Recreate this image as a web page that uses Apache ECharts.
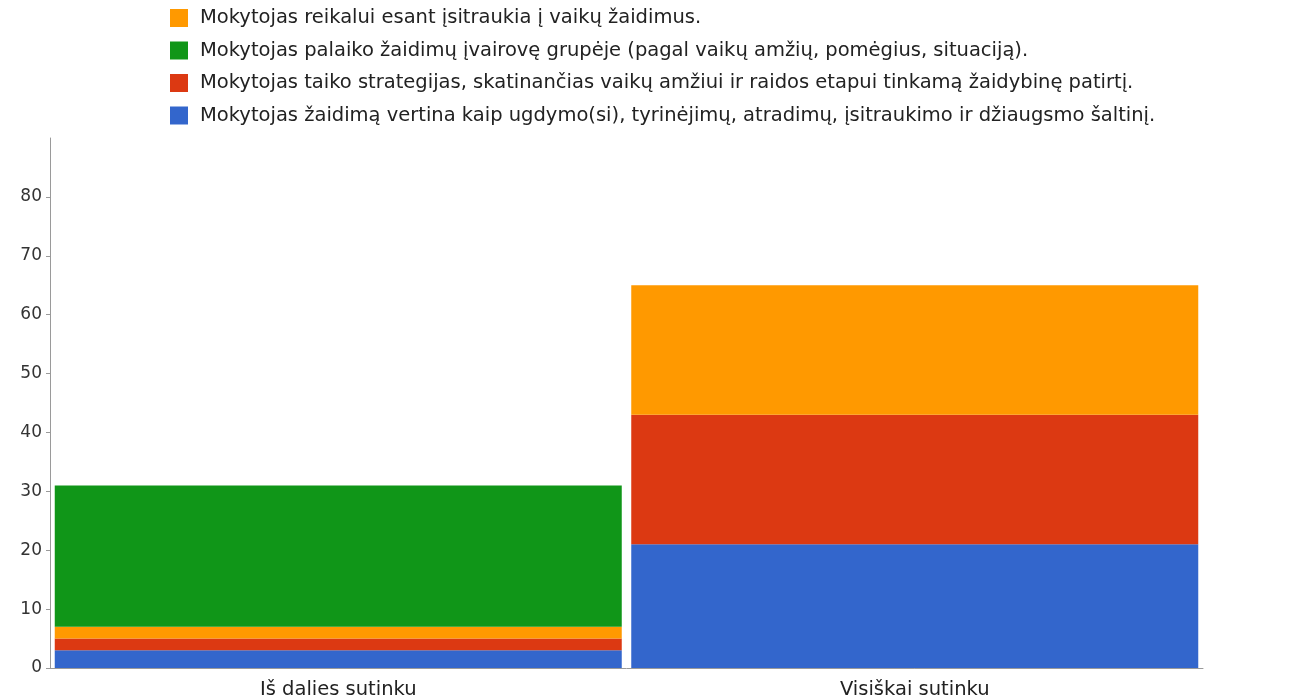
<!DOCTYPE html>
<html lang="lt" style="height: 100%">
<head>
  <meta charset="utf-8">
  <title>Mokytojas ir žaidimas</title>
</head>
<body style="height: 100%; margin: 0; background: #fff">
  <div id="container" style="width: 1304px; height: 700px"></div>

  <script type="text/javascript" src="https://cdn.jsdelivr.net/npm/echarts@6/dist/echarts.min.js"></script>
  <script type="text/javascript">
    // kategorijos (x ašis)
    const categories = ['Iš dalies sutinku', 'Visiškai sutinku'];

    // serijos (kaupiamos nuo apačios)
    const seriesNames = [
      'Mokytojas žaidimą vertina kaip ugdymo(si), tyrinėjimų, atradimų, įsitraukimo ir džiaugsmo šaltinį.',
      'Mokytojas taiko strategijas, skatinančias vaikų amžiui ir raidos etapui tinkamą žaidybinę patirtį.',
      'Mokytojas reikalui esant įsitraukia į vaikų žaidimus.',
      'Mokytojas palaiko žaidimų įvairovę grupėje (pagal vaikų amžių, pomėgius, situaciją).'
    ];
    const blueValues = [3, 21];
    const redValues = [2, 22];
    const orangeValues = [2, 22];
    const greenValues = [24, 0];

    // y ašies žymės
    const yTicks = [0, 10, 20, 30, 40, 50, 60, 70, 80];

    const colors = ['#3366cc', '#dc3912', '#ff9900', '#109618'];
    const values = [blueValues, redValues, orangeValues, greenValues];

    var dom = document.getElementById('container');
    var myChart = echarts.init(dom, null, { renderer: 'canvas' });

    const font = 'DejaVu Sans, Liberation Sans, sans-serif';

    var option = {
      backgroundColor: '#fff',
      animation: false,
      legend: {
        orient: 'vertical',
        left: 165,
        top: 3,
        itemWidth: 18,
        itemHeight: 18,
        itemGap: 12.5,
        icon: 'rect',
        // legendos tvarka kaip paveikslėlyje
        data: [seriesNames[2], seriesNames[3], seriesNames[1], seriesNames[0]],
        textStyle: { fontFamily: font, fontSize: 19.5, color: '#222', padding: [0, 0, 0, 7] }
      },
      grid: { left: 50, right: 101, top: 138, bottom: 32 },
      xAxis: {
        type: 'category',
        data: categories,
        axisLine: { lineStyle: { color: '#9a9a9a' } },
        axisTick: { alignWithLabel: true, length: 4, lineStyle: { color: '#9a9a9a' } },
        axisLabel: { fontFamily: font, fontSize: 19.5, color: '#222', margin: 12 }
      },
      yAxis: {
        type: 'value',
        min: 0,
        max: 90,
        interval: 10,
        axisLine: { show: true, lineStyle: { color: '#9a9a9a' } },
        axisTick: { show: true, length: 4, lineStyle: { color: '#9a9a9a' } },
        splitLine: { show: false },
        axisLabel: {
          fontFamily: font, fontSize: 17, color: '#333', margin: 8,
          showMaxLabel: false,
          formatter: function (v) { return yTicks.indexOf(v) >= 0 ? String(v) : ''; }
        }
      },
      series: seriesNames.map(function (name, i) {
        return {
          name: name,
          type: 'bar',
          stack: 'total',
          barWidth: 567,
          itemStyle: { color: colors[i] },
          data: values[i]
        };
      })
    };

    myChart.setOption(option);
    window.addEventListener('resize', myChart.resize);
  </script>
</body>
</html>
